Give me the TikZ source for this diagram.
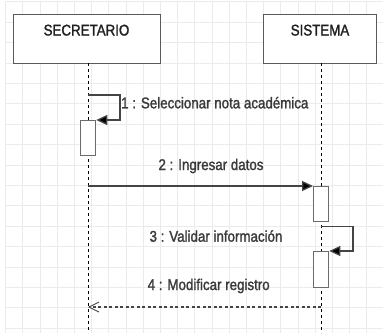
\documentclass[tikz,border=0pt]{standalone}
\usepackage{fontspec}
\setmainfont[FakeStretch=0.86,FakeBold=1.5]{Liberation Sans}
\usetikzlibrary{arrows.meta}
\definecolor{gridc}{HTML}{EBEBEB}
\definecolor{boxc}{HTML}{5A5A5A}
\definecolor{txtc}{HTML}{3A3A3A}
\definecolor{msgc}{HTML}{444444}
\tikzset{
  actorbox/.style={draw=boxc, line width=1.4pt, fill=white, minimum width=147pt, minimum height=49pt, anchor=north west, inner sep=0pt},
  actortext/.style={text=black!88, inner sep=0pt, anchor=base},
  lifeline/.style={draw=black, line width=0.9pt, dash pattern=on 3pt off 3pt},
  actbox/.style={draw=boxc!90, line width=1.3pt, fill=white, minimum width=15pt, minimum height=35pt, anchor=north west, inner sep=0pt},
  msg/.style={draw=msgc, line width=1.3pt, -{Triangle[length=11pt,width=10pt,fill=black]}},
  reply/.style={draw=msgc, line width=1.1pt, dash pattern=on 3pt off 2.5pt, -{Straight Barb[length=10pt,width=10pt,line width=0.9pt]}},
  msglabel/.style={text=txtc, inner sep=0pt, anchor=base},
}
\begin{document}
\begin{tikzpicture}[x=1pt,y=-1pt,font=\fontsize{15.5}{18}\selectfont]
\useasboundingbox (0,0) rectangle (383,333);
\fill[white] (0,0) rectangle (383,333);
% grid
\foreach \i in {0,...,22} \draw[gridc, line width=0.6pt] (5.5+17.2*\i,1.6) -- (5.5+17.2*\i,333);
\foreach \j in {0,...,16} \draw[gridc, line width=0.6pt] (5.5,1.6+20.4*\j) -- (383,1.6+20.4*\j);
% actors
\node[actorbox] (sec) at (13,14) {};
\node[actortext] (secT) at (86.5,35.5) {SECRETARIO};
\node[actorbox, minimum width=113pt] (sis) at (263,14) {};
\node[actortext] (sisT) at (320,35.5) {SISTEMA};
% lifelines
\coordinate (secTop) at (88,63);
\coordinate (secBot) at (88,333);
\coordinate (sisTop) at (321,63);
\coordinate (sisBot) at (321,333);
\draw[lifeline] (secTop) -- (secBot);
\draw[lifeline] (sisTop) -- (sisBot);
% activations
\node[actbox] (a1) at (80,120) {};
\node[actbox, minimum height=35pt] (a2) at (313,186) {};
\node[actbox, minimum height=36pt] (a3) at (313,251) {};
% message 1 (self)
\coordinate (m1s) at (88,95);
\coordinate (m1c) at (120,95);
\draw[msg] (m1s) -- (m1c) |- (a1.north east);
\node[msglabel, anchor=base west] (l1) at (121,108.3) {1 : Seleccionar nota académica};
% message 2
\coordinate (m2s) at (88,186);
\draw[msg] (m2s) -- (a2.north west);
\node[msglabel] (l2) at (211,170) {2 : Ingresar datos};
% message 3 (self)
\coordinate (m3s) at (321,226.5);
\coordinate (m3c) at (353,226.5);
\draw[msg] (m3s) -- (m3c) |- (a3.north east);
\node[msglabel] (l3) at (216,241.7) {3 : Validar información};
% message 4 (reply)
\coordinate (m4s) at (321,307);
\coordinate (m4e) at (88,307);
\draw[reply] (m4s) -- (m4e);
\node[msglabel] (l4) at (208.7,290) {4 : Modificar registro};
\end{tikzpicture}
\end{document}
